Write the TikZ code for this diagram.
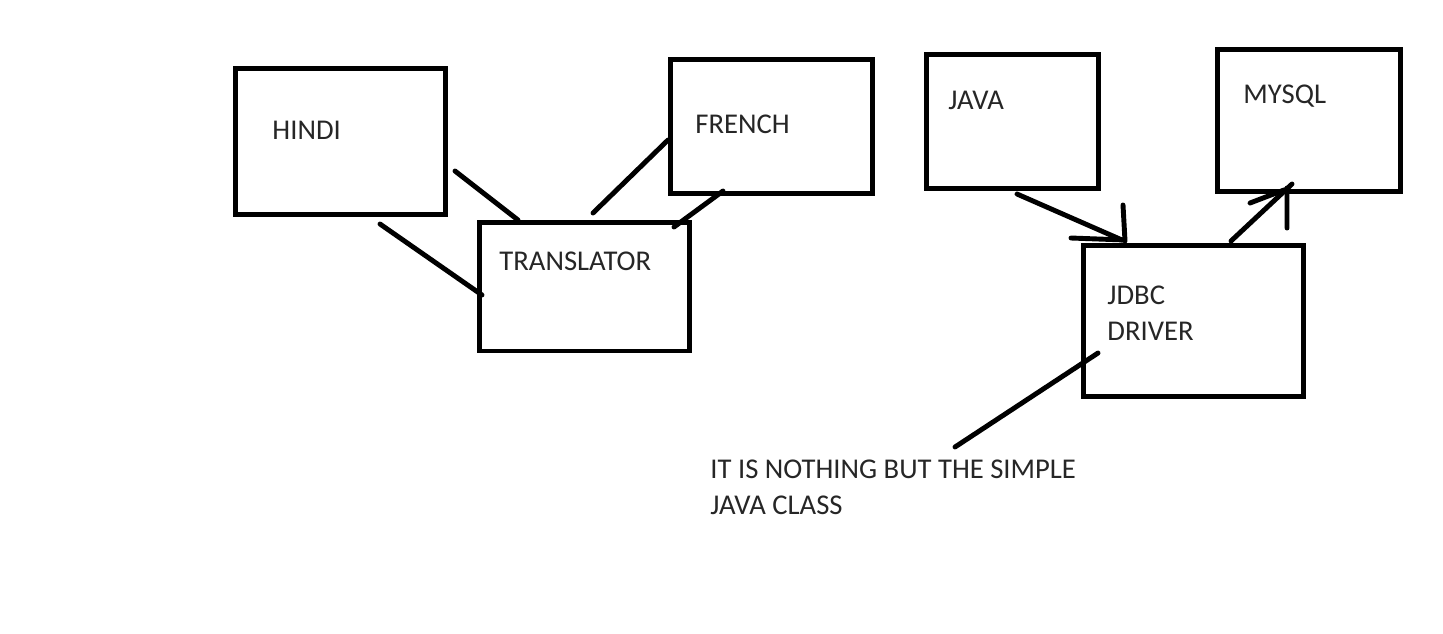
\documentclass[tikz,border=0pt]{standalone}
\usepackage{fontspec}
\setmainfont{Carlito}
\begin{document}
\begin{tikzpicture}[x=0.02cm,y=-0.02cm,line width=2.8pt,line cap=round,
  box/.style={draw,line cap=rect,minimum width=#1},
  lbl/.style={anchor=base west,inner sep=0pt,text=black!85,align=left,
    font=\fontsize{16.3}{20}\selectfont}]
\useasboundingbox (0,0) rectangle (1443,633);
% boxes
\node[box=4.2cm,minimum height=2.92cm] (hindi) at (340.5,141.5) {};
\node[box=4.04cm,minimum height=2.68cm] (french) at (771.5,126.5) {};
\node[box=4.2cm,minimum height=2.57cm] (translator) at (584.5,286.75) {};
\node[box=3.44cm,minimum height=2.68cm] (java) at (1012.5,121.5) {};
\node[box=3.66cm,minimum height=2.84cm] (mysql) at (1309,120.5) {};
\node[box=4.4cm,minimum height=3.02cm] (jdbc) at (1193.5,321) {};
% labels (base = last line)
\node[lbl] (hindi text) at (270,139) {HINDI};
\node[lbl] (french text) at (693,133) {FRENCH};
\node[lbl] (translator text) at (497,270) {TRANSLATOR};
\node[lbl] (java text) at (946,109) {JAVA};
\node[lbl] (mysql text) at (1241,103) {MYSQL};
\node[lbl] (jdbc text) at (1105,340) {JDBC\\DRIVER};
\node[lbl] (note) at (708,514) {IT IS NOTHING BUT THE SIMPLE\\JAVA CLASS};
% strokes between the language boxes
\coordinate (h1) at (455,171); \coordinate (t1) at (518,220);
\coordinate (h2) at (380,224); \coordinate (t2) at (482,295);
\coordinate (f1) at (668,140); \coordinate (t3) at (593,213);
\coordinate (f2) at (723,191); \coordinate (t4) at (674,227);
\draw (h1) -- (t1);
\draw (h2) -- (t2);
\draw (f1) -- (t3);
\draw (f2) -- (t4);
% java -> jdbc -> mysql
\coordinate (j1) at (1017,194); \coordinate (d1) at (1122,240);
\coordinate (d2) at (1231,241); \coordinate (m1) at (1292,184);
\draw (j1) -- (d1);
\draw (1123,205) -- (1125,241) (1071,238) -- (1125,240);
\draw (d2) -- (m1);
\draw (1250,203) -- (1284,190) (1287,188) -- (1287,228);
% pointer to the note
\coordinate (d3) at (1098,353); \coordinate (n1) at (955,447);
\draw (d3) -- (n1);
\end{tikzpicture}
\end{document}
